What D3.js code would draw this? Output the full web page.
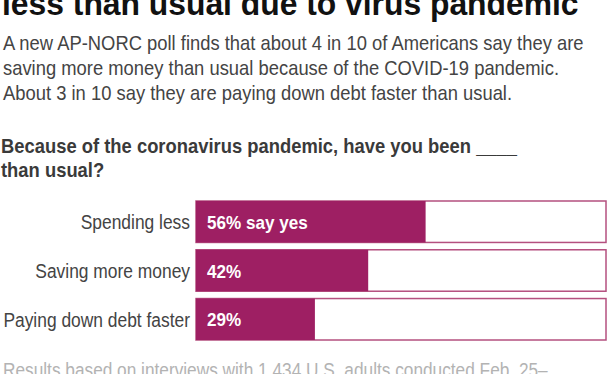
<!DOCTYPE html>
<html>
<head>
<meta charset="utf-8">
<script src="https://cdn.jsdelivr.net/npm/d3@7"></script>
<style>
  body { margin: 0; background: #fff; }
  text { font-family: "Liberation Sans", Arial, sans-serif; }
</style>
</head>
<body>
<div id="chart"></div>
<script>
// data
const categories = ['Spending less', 'Saving more money', 'Paying down debt faster'];
const values = [56, 42, 29];
const valueLabels = ['56% say yes', '42%', '29%'];

const titleLines = ['less than usual due to virus pandemic'];
const subtitleLines = [
    'A new AP-NORC poll finds that about 4 in 10 of Americans say they are',
    'saving more money than usual because of the COVID-19 pandemic.',
    'About 3 in 10 say they are paying down debt faster than usual.'
];
const questionLines = [
    'Because of the coronavirus pandemic, have you been ____',
    'than usual?'
];
const footLines = ['Results based on interviews with 1,434 U.S. adults conducted Feb. 25\u2013'];

// initialization
const width = 612;
const height = 374;
const barColor = '#9e1f63';

var svg = d3.select('#chart').append('svg')
    .attr('width', width)
    .attr('height', height);

// condensed text helper (the type in the chart is a narrow sans)
function place(x, y, k) {
    return 'translate(' + x + ',' + y + ') scale(' + k + ',1)';
}

// header texts
svg.selectAll('.title')
    .data(titleLines)
    .enter().append('text')
    .attr('class', 'title')
    .attr('transform', (d, i) => place(2, 15 + i * 36, 0.965))
    .attr('font-size', 33)
    .attr('font-weight', 'bold')
    .attr('fill', '#111')
    .text(d => d);

svg.selectAll('.subtitle')
    .data(subtitleLines)
    .enter().append('text')
    .attr('class', 'subtitle')
    .attr('transform', (d, i) => place(3, 50 + i * 25, 0.92))
    .attr('font-size', 20)
    .attr('fill', '#444')
    .text(d => d);

svg.selectAll('.question')
    .data(questionLines)
    .enter().append('text')
    .attr('class', 'question')
    .attr('transform', (d, i) => place(1, 153 + i * 24, 0.92))
    .attr('font-size', 20)
    .attr('font-weight', 'bold')
    .attr('fill', '#3a3a3a')
    .text(d => d);

// scales
var xScale = d3.scaleLinear()
    .domain([0, 100])
    .range([196, 606]);

var yScale = d3.scaleBand()
    .domain(categories)
    .range([201, 340])
    .paddingInner(0.15);

// bar tracks
svg.selectAll('.track')
    .data(categories)
    .enter().append('rect')
    .attr('class', 'track')
    .attr('x', xScale(0))
    .attr('y', d => yScale(d))
    .attr('width', xScale(100) - xScale(0))
    .attr('height', yScale.bandwidth())
    .attr('fill', '#fff')
    .attr('stroke', '#b4507f')
    .attr('stroke-width', 1.5);

// bars
svg.selectAll('.bar')
    .data(values)
    .enter().append('rect')
    .attr('class', 'bar')
    .attr('x', xScale(0))
    .attr('y', (d, i) => yScale(categories[i]))
    .attr('width', d => xScale(d) - xScale(0))
    .attr('height', yScale.bandwidth())
    .attr('fill', barColor);

// category labels
svg.selectAll('.label')
    .data(categories)
    .enter().append('text')
    .attr('class', 'label')
    .attr('transform', d => place(xScale(0) - 6, yScale(d) + yScale.bandwidth() / 2 + 7.5, 0.87))
    .attr('text-anchor', 'end')
    .attr('font-size', 20)
    .attr('fill', '#444')
    .text(d => d);

// value labels
svg.selectAll('.value')
    .data(valueLabels)
    .enter().append('text')
    .attr('class', 'value')
    .attr('transform', (d, i) => place(xScale(0) + 11, yScale(categories[i]) + yScale.bandwidth() / 2 + 7, 0.95))
    .attr('font-size', 18)
    .attr('font-weight', 'bold')
    .attr('fill', '#fff')
    .text(d => d);

// footnote
svg.selectAll('.foot')
    .data(footLines)
    .enter().append('text')
    .attr('class', 'foot')
    .attr('transform', (d, i) => place(3, 377 + i * 24, 0.885))
    .attr('font-size', 19.5)
    .attr('fill', '#b3b3b3')
    .text(d => d);
</script>
</body>
</html>
